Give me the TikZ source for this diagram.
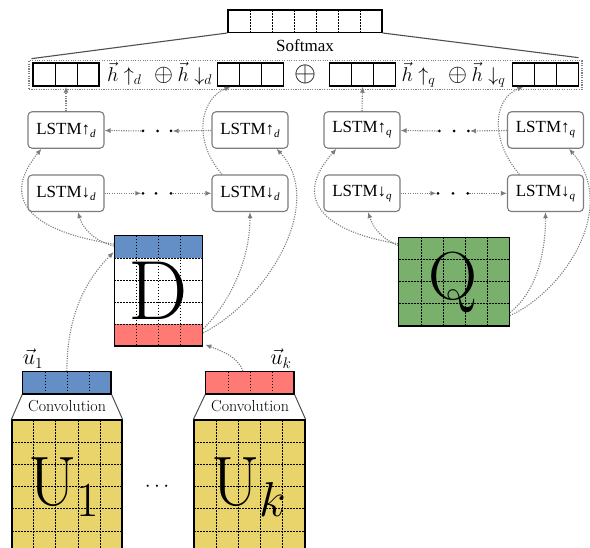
\documentclass[tikz,border=0pt]{standalone}
\usepackage{fix-cm}
\usepackage{graphicx}
\usepackage{fontspec}
\newfontfamily\tms{Liberation Serif}
\usetikzlibrary{arrows.meta}
\definecolor{conncol}{RGB}{118,128,120}
\definecolor{boxgray}{RGB}{125,125,125}
\definecolor{trapgray}{RGB}{80,80,80}
\definecolor{dblue}{RGB}{99,142,198}
\definecolor{dred}{RGB}{255,122,117}
\definecolor{dgreen}{RGB}{120,176,108}
\definecolor{dyel}{RGB}{232,212,107}
\newcommand\lstmtxt[2]{{\tms\fontsize{17}{17}\selectfont LSTM#1\raisebox{-3pt}{\fontsize{11}{11}\selectfont\itshape #2}}}
\newcommand\bigop[1]{\resizebox{#1}{!}{$\oplus$}}
\tikzset{
  conn/.style={draw=conncol, line width=1.1pt, dash pattern=on 1.1pt off 1.3pt, -{Latex[length=6pt,width=5pt]}},
  lstmbox/.style={draw=boxgray, line width=1.1pt, rounded corners=4pt, minimum width=76pt, minimum height=36.5pt, inner sep=0pt, fill=white},
  vecbox/.style={draw, line width=1.6pt, minimum width=66pt, minimum height=22.7pt, inner sep=0pt},
  gridln/.style={line width=0.6pt, dash pattern=on 1.8pt off 1.2pt},
  matborder/.style={draw, line width=1.2pt, inner sep=0pt},
  rowdot/.style={circle, fill=black, inner sep=0pt, minimum size=3pt},
  trap/.style={draw=trapgray, line width=1pt},
  conv/.style={font=\fontsize{16}{16}\selectfont},
  biglab/.style={font=\fontsize{20}{20}\selectfont, inner sep=0pt, anchor=base},
}
\begin{document}
\begin{tikzpicture}[x=1pt,y=-1pt]
\path[use as bounding box, clip] (0,0) rectangle (590,548);
\fill[white] (0,0) rectangle (590,548);
% softmax
\node[draw, line width=1.3pt, minimum width=154pt, minimum height=22.3pt, inner sep=0pt] (sm) at (305,21.2) {};
\foreach \k in {1,...,6} \draw[gridln] (228+22*\k,10) -- (228+22*\k,32.3);
\node[font=\tms\fontsize{17}{17}\selectfont] (smlab) at (305,46) {Softmax};
\node[draw=gray, line width=1.1pt, dash pattern=on 1.1pt off 1.3pt, minimum width=553pt, minimum height=28.6pt, inner sep=0pt] (cat) at (305.5,75) {};
\draw[trapgray, line width=1.1pt] (sm.south west) -- ([shift={(3pt,1.5pt)}]cat.north west);
\draw[trapgray, line width=1.1pt] (sm.south east) -- ([shift={(-4pt,2.5pt)}]cat.north east);
% vector boxes
\foreach \n/\cx in {hv1/66, hv2/250.5, hv3/362.5, hv4/545.3}{
  \node[vecbox] (\n) at (\cx,74.6) {};
  \draw[line width=0.7pt] (\cx-11,63.3) -- (\cx-11,86);
  \draw[line width=0.7pt] (\cx+11,63.3) -- (\cx+11,86);
}
\node[biglab] (hlabd) at (159.6,81.7) {$\vec h\uparrow_d$\hspace{12.5pt}\bigop{19pt}\hspace{4.5pt}$\vec h\downarrow_d$};
\node[biglab] (oplus) at (305,81.7) {\bigop{22pt}};
\node[biglab] (hlabq) at (453.5,81.7) {$\vec h\uparrow_q$\hspace{12.5pt}\bigop{19pt}\hspace{4.5pt}$\vec h\downarrow_q$};
% LSTM boxes
\node[lstmbox] (lud1) at (66,130) {\lstmtxt{↑}{d}};
\node[lstmbox] (ldd1) at (66,193.3) {\lstmtxt{↓}{d}};
\node[lstmbox] (lud2) at (250,130) {\lstmtxt{↑}{d}};
\node[lstmbox] (ldd2) at (250,193.3) {\lstmtxt{↓}{d}};
\node[lstmbox] (luq1) at (362,130) {\lstmtxt{↑}{q}};
\node[lstmbox] (ldq1) at (362,193.3) {\lstmtxt{↓}{q}};
\node[lstmbox] (luq2) at (545.5,130) {\lstmtxt{↑}{q}};
\node[lstmbox] (ldq2) at (545.5,193.3) {\lstmtxt{↓}{q}};
% dots
\foreach \n/\x/\y in {dua/143/131, dub/157.7/131, duc/171/131, dda/143/193.3, ddb/156/193.3, ddc/171/193.3,
  qua/439.3/131, qub/454/131, quc/468.3/131, qda/438/193.3, qdb/453/193.3, qdc/467.7/193.3}
  \node[rowdot] (\n) at (\x,\y) {};
% D matrix
\fill[dblue] (114.3,235.7) rectangle (202.7,258.3);
\fill[dred] (114.3,324) rectangle (202.7,346);
\foreach \x in {136.4,158.5,180.6} \draw[gridln] (\x,235.7) -- (\x,346);
\foreach \y in {258.3,280.2,302.1,324} \draw[gridln] (114.3,\y) -- (202.7,\y);
\node[font=\fontsize{84}{84}\selectfont] (Dl) at (158.5,291) {D};
\node[matborder, minimum width=88.4pt, minimum height=110.3pt] (D) at (158.5,290.85) {};
% Q matrix
\fill[dgreen] (398.7,237.3) rectangle (509.3,326);
\foreach \x in {420.8,442.9,465,487.1} \draw[gridln] (\x,237.3) -- (\x,326);
\foreach \y in {259.5,281.7,303.8} \draw[gridln] (398.7,\y) -- (509.3,\y);
\node[font=\fontsize{68}{68}\selectfont, anchor=base] (Ql) at (453,300) {Q};
\node[matborder, minimum width=110.6pt, minimum height=88.7pt] (Q) at (454,281.65) {};
% U matrices
\node[matborder, fill=dyel, minimum width=110pt, minimum height=180pt] (U1m) at (67,510) {};
\foreach \x in {33.5,55.7,77.8,100} \draw[gridln] (\x,420) -- (\x,548);
\foreach \y in {442.2,464.4,486.6,508.8,531} \draw[gridln] (12,\y) -- (122,\y);
\node[matborder, fill=dyel, minimum width=111pt, minimum height=180pt] (Ukm) at (249.5,510) {};
\foreach \x in {216.5,238.5,260.6,282.7} \draw[gridln] (\x,420) -- (\x,548);
\foreach \y in {442.2,464.4,486.6,508.8,531} \draw[gridln] (194,\y) -- (305,\y);
\node[font=\fontsize{70}{70}\selectfont, anchor=base] (U1l) at (64,506) {$\mathrm{U}_1$};
\node[font=\fontsize{70}{70}\selectfont, anchor=base] (Ukl) at (249,506) {$\mathrm{U}_k$};
\node[font=\fontsize{21}{21}\selectfont] (udots) at (157,487) {$\cdots$};
% u vectors
\node[matborder, fill=dblue, minimum width=88.3pt, minimum height=22.3pt] (u1) at (66.9,382.9) {};
\foreach \x in {45,66.8,89} \draw[gridln] (\x,371.7) -- (\x,394);
\node[matborder, fill=dred, minimum width=88.3pt, minimum height=22.3pt] (uk) at (249.9,382.9) {};
\foreach \x in {228.2,250,271.8} \draw[gridln] (\x,371.7) -- (\x,394);
\draw[trap] (u1.south west) -- (U1m.north west);
\draw[trap] (u1.south east) -- (U1m.north east);
\draw[trap] (uk.south west) -- (Ukm.north west);
\draw[trap] (uk.south east) -- (Ukm.north east);
\node[conv] (cv1) at (67,406.5) {Convolution};
\node[conv] (cv2) at (250,406.5) {Convolution};
\node[font=\fontsize{22}{22}\selectfont, anchor=base] (u1lab) at (33,365) {$\vec u_1$};
\node[font=\fontsize{22}{22}\selectfont, anchor=base] (uklab) at (281,365) {$\vec u_k$};
% row connectors
\draw[conn] (lud2) -- (duc);
\draw[conn] (dua) -- (lud1);
\draw[conn] (ldd1) -- (dda);
\draw[conn] (ddc) -- (ldd2);
\draw[conn] (luq2) -- (quc);
\draw[conn] (qua) -- (luq1);
\draw[conn] (ldq1) -- (qda);
\draw[conn] (qdc) -- (ldq2);
% up to concat
\draw[conn] (lud1.north) -- (hv1.south);
\draw[conn] (luq1.north) -- (hv3.south);
\draw[conn] ([xshift=-28pt]ldd2.north) .. controls +(-30,-35) and +(-30,12) .. ([xshift=-20pt]hv2.south);
\draw[conn] ([xshift=-26pt]ldq2.north) .. controls +(-30,-35) and +(-30,12) .. ([xshift=-22pt]hv4.south);
% D to LSTMs
\draw[conn] ([yshift=-11pt]D.north west) .. controls +(-22,-6) and +(4,14) .. ([xshift=12pt]ldd1.south);
\draw[conn] ([yshift=-9pt]D.north west) .. controls +(-83,-13) and +(-42,51) .. ([xshift=14pt]lud1.south west);
\draw[conn] ([yshift=-38pt]D.east) .. controls +(25,-25) and +(0,50) .. (ldd2.south);
\draw[conn] ([yshift=-42pt]D.east) .. controls +(67,-35) and +(49,52) .. ([xshift=-12pt]lud2.south east);
% Q to LSTMs
\draw[conn] ([yshift=-9pt]Q.north west) .. controls +(-18,-8) and +(5,15) .. ([xshift=6pt]ldq1.south);
\draw[conn] ([yshift=-7pt]Q.north west) .. controls +(-75,-12) and +(-45,50) .. ([xshift=13pt]luq1.south west);
\draw[conn] ([yshift=-31pt]Q.east) .. controls +(25,-20) and +(0,45) .. (ldq2.south);
\draw[conn] ([yshift=-34pt]Q.east) .. controls +(55,-25) and +(50,58) .. ([xshift=-15pt]luq2.south east);
% u to D
\draw[conn] (u1.north) .. controls +(0,-60) and +(-25,25) .. ([yshift=-17pt]D.north west);
\draw[conn] ([xshift=-7pt]uk.north) .. controls +(-5,-15) and +(15,6) .. ([shift={(2pt,2pt)}]D.south east);
\end{tikzpicture}
\end{document}
